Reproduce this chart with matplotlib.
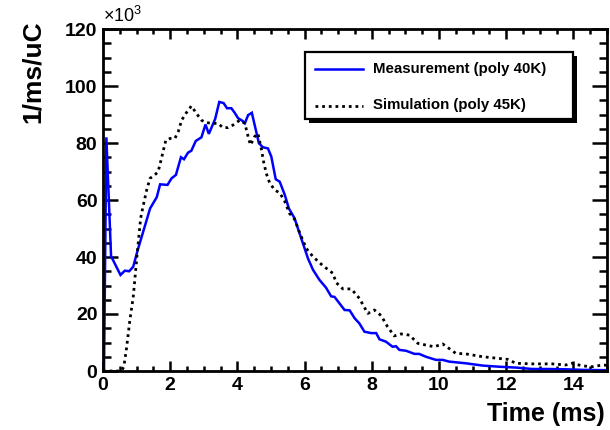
import matplotlib
matplotlib.use("Agg")
import matplotlib.pyplot as plt
from matplotlib.patches import Rectangle
from matplotlib.lines import Line2D
from matplotlib.ticker import MultipleLocator

plt.rcParams['font.family'] = ['Liberation Sans', 'DejaVu Sans']
plt.rcParams['mathtext.default'] = 'regular'

# ---- data (values in units of 10^3 per ms per uC) ----
meas_t = [0.03, 0.10, 0.24, 0.52, 0.65, 0.78, 0.90, 1.02, 1.30, 1.40, 1.60, 1.70, 1.92, 2.04,
          2.17, 2.32, 2.41, 2.53, 2.63, 2.76, 2.93, 3.05, 3.15, 3.34, 3.46, 3.59, 3.69, 3.82,
          3.92, 4.02, 4.15, 4.22, 4.32, 4.43, 4.64, 4.76, 4.91, 5.01, 5.14, 5.26, 5.41, 5.53,
          5.70, 5.85, 6.10, 6.25, 6.44, 6.64, 6.79, 6.89, 7.04, 7.19, 7.34, 7.49, 7.63, 7.78,
          7.98, 8.13, 8.23, 8.42, 8.62, 8.72, 8.82, 9.02, 9.27, 9.41, 9.61, 9.91, 10.11, 10.30,
          10.80, 11.30, 11.79, 12.29, 12.78, 13.28, 13.77, 14.27, 14.86, 15.00]
meas_v = [0.0, 82.0, 40.3, 33.7, 35.2, 35.0, 36.6, 41.9, 53.0, 57.0, 61.0, 65.5, 65.3, 67.6,
          68.8, 75.0, 74.3, 76.6, 77.3, 80.7, 82.0, 86.5, 83.2, 88.5, 94.4, 94.0, 92.2, 92.2,
          90.6, 88.7, 87.8, 86.9, 89.8, 90.6, 79.9, 78.5, 78.1, 75.2, 67.3, 66.4, 61.8, 57.1,
          53.6, 48.3, 39.5, 35.5, 32.0, 29.2, 26.2, 26.0, 23.7, 21.4, 21.3, 18.5, 16.7, 13.8,
          13.3, 13.3, 11.1, 10.3, 8.5, 8.7, 7.4, 7.1, 6.0, 6.0, 5.0, 3.9, 3.9, 3.3,
          2.7, 1.9, 1.5, 1.2, 0.7, 0.7, 0.6, 0.4, 0.3, 0.3]

sim_t = [0.00, 0.55, 0.62, 0.70, 0.80, 0.90, 1.02, 1.12, 1.20, 1.30, 1.40, 1.54, 1.64, 1.74,
         1.87, 2.00, 2.14, 2.24, 2.34, 2.48, 2.63, 2.78, 2.93, 3.05, 3.25, 3.42, 3.57, 3.72,
         3.87, 4.07, 4.22, 4.32, 4.39, 4.51, 4.61, 4.71, 4.78, 4.86, 4.96, 5.11, 5.26, 5.41,
         5.55, 5.70, 5.85, 6.05, 6.25, 6.54, 6.84, 6.94, 7.14, 7.39, 7.63, 7.88, 8.08, 8.28,
         8.47, 8.67, 8.87, 9.12, 9.37, 9.61, 9.86, 10.11, 10.30, 10.50, 10.80, 11.30, 11.79,
         12.04, 12.29, 12.78, 13.37, 13.77, 13.96, 14.27, 14.56, 14.86, 15.00]
sim_v = [0.0, 0.0, 1.5, 8.0, 17.9, 26.0, 41.5, 53.6, 58.2, 63.5, 67.6, 68.8, 69.9, 74.6,
         81.0, 81.6, 81.6, 84.0, 88.0, 90.6, 93.0, 90.4, 88.0, 87.2, 86.9, 86.9, 85.4, 85.4,
         86.3, 88.0, 86.9, 82.2, 79.3, 82.2, 83.4, 78.1, 73.4, 69.3, 66.0, 63.5, 62.5, 59.5,
         55.3, 53.3, 48.6, 43.0, 40.1, 37.0, 34.3, 31.0, 28.8, 28.8, 25.5, 20.2, 21.4, 19.4,
         15.5, 12.3, 13.0, 12.6, 9.7, 9.1, 8.5, 9.5, 7.9, 6.2, 6.0, 5.0, 4.4,
         4.1, 2.7, 2.5, 2.5, 2.1, 2.7, 1.8, 1.5, 2.1, 2.0]

meas_label = "Measurement (poly 40K)"
sim_label = "Simulation (poly 45K)"

# ---- figure ----
W, H = 610, 430
fig = plt.figure(figsize=(W / 100, H / 100), dpi=100)
L, R, T, B = 103, 607, 29, 371
ax = fig.add_axes([L / W, (H - B) / H, (R - L) / W, (B - T) / H])

ax.plot(meas_t, meas_v, color='#0000ff', lw=1.8, solid_joinstyle='miter')
ax.plot(sim_t, sim_v, color='black', lw=2.0, linestyle=(0, (1.0, 1.4)))

ax.set_xlim(0, 15)
ax.set_ylim(0, 120)
ax.xaxis.set_major_locator(MultipleLocator(2))
ax.xaxis.set_minor_locator(MultipleLocator(0.5))
ax.yaxis.set_major_locator(MultipleLocator(20))
ax.yaxis.set_minor_locator(MultipleLocator(5))

for s in ax.spines.values():
    s.set_linewidth(2.0)
ax.tick_params(axis='x', which='major', direction='in', length=7, width=1.8,
               top=True, labelsize=14, pad=4)
ax.tick_params(axis='x', which='minor', direction='in', length=3.5, width=1.8, top=True)
ax.tick_params(axis='y', which='major', direction='in', length=11, width=1.8,
               right=True, labelsize=14, pad=4)
ax.tick_params(axis='y', which='minor', direction='in', length=5.5, width=1.8, right=True)
for lab in ax.get_xticklabels() + ax.get_yticklabels():
    lab.set_fontweight('bold')

ax.set_xlabel('Time (ms)', loc='right', fontsize=18, fontweight='bold')
ax.xaxis.set_label_coords(0.996, -0.126)
ax.xaxis.label.set_va('center')
ax.set_ylabel('1/ms/uC', loc='top', fontsize=19, fontweight='bold')
ax.yaxis.set_label_coords((33 - L) / (R - L), (B - 20) / (B - T))
ax.yaxis.label.set_va('center')

ax.text(0.0, 1.008, r'$\times10^{3}$', transform=ax.transAxes, ha='left', va='bottom',
        fontsize=13)

# ---- legend box (drawn in figure pixel coords) ----
def fx(px):
    return px / W

def fy(py):
    return (H - py) / H

lx0, lx1, ly0, ly1 = 305, 573, 52, 119
sh = 4
fig.patches.append(Rectangle((fx(lx0 + sh), fy(ly1 + sh)), fx(lx1) - fx(lx0), fy(ly0) - fy(ly1),
                             transform=fig.transFigure, facecolor='black', edgecolor='none',
                             zorder=5))
fig.patches.append(Rectangle((fx(lx0), fy(ly1)), fx(lx1) - fx(lx0), fy(ly0) - fy(ly1),
                             transform=fig.transFigure, facecolor='white', edgecolor='black',
                             linewidth=1.6, zorder=6))
fig.lines.append(Line2D([fx(315), fx(363)], [fy(68.5), fy(68.5)], transform=fig.transFigure,
                        color='#0000ff', lw=1.8, zorder=7))
fig.lines.append(Line2D([fx(315), fx(363)], [fy(105.5), fy(105.5)], transform=fig.transFigure,
                        color='black', lw=2.0, linestyle=(0, (1.0, 1.4)), zorder=7))
fig.text(fx(373), fy(68.5), meas_label, ha='left', va='center', fontsize=10.8,
         fontweight='bold', zorder=7)
fig.text(fx(373), fy(105.5), sim_label, ha='left', va='center', fontsize=10.8,
         fontweight='bold', zorder=7)

fig.savefig('out.png', dpi=100)
